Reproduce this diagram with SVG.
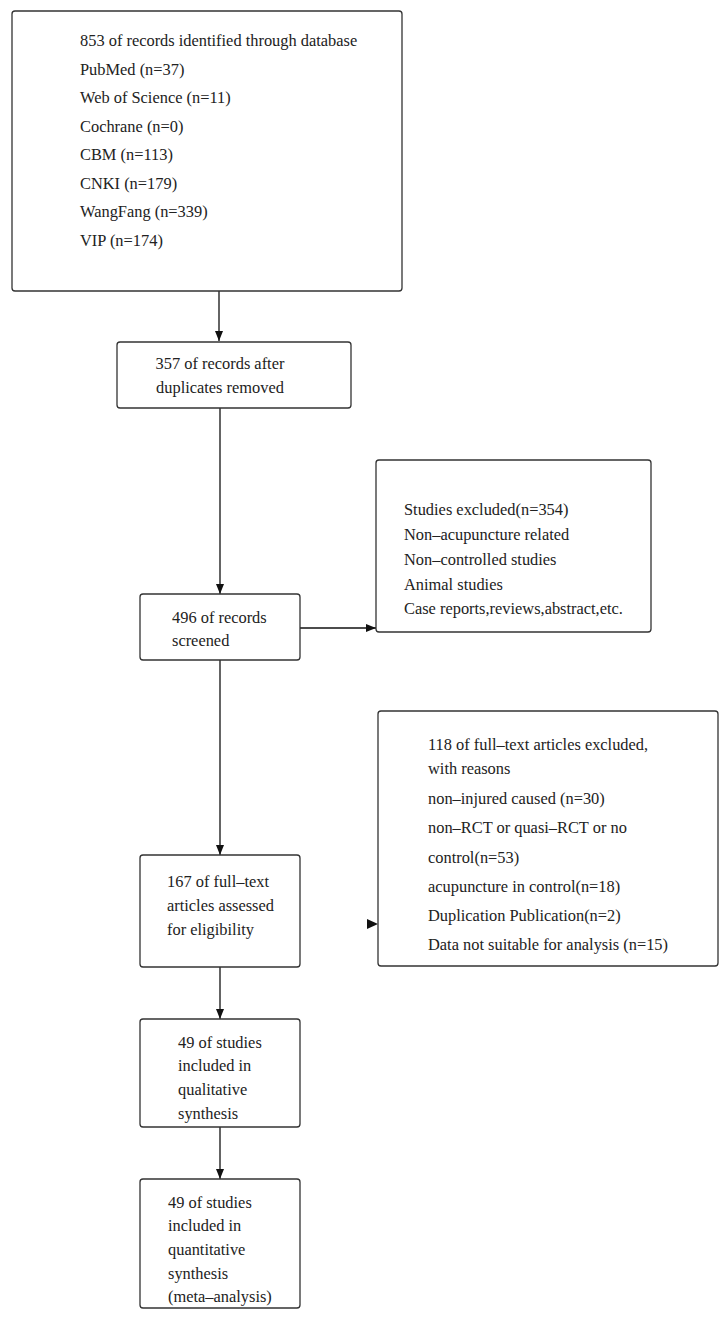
<svg xmlns="http://www.w3.org/2000/svg" width="728" height="1319" viewBox="0 0 728 1319">
<defs>
<marker id="ah" markerWidth="10" markerHeight="8" refX="10" refY="4" orient="auto" markerUnits="userSpaceOnUse">
<path d="M0,0 L10,4 L0,8 Z" fill="#111"/>
</marker>
<style>
.box{fill:#fff;stroke:#333;stroke-width:1.3}
.t{font-family:"Liberation Serif","Times New Roman",serif;font-size:16.4px;fill:#222}
.c{stroke:#111;stroke-width:1.3;fill:none}
</style>
</defs>
<rect width="728" height="1319" fill="#fff"/>
<g id="connectors">
<line class="c" x1="219" y1="291" x2="219" y2="341" marker-end="url(#ah)"/>
<line class="c" x1="220" y1="408" x2="220" y2="594" marker-end="url(#ah)"/>
<line class="c" x1="300" y1="628" x2="376" y2="628" marker-end="url(#ah)"/>
<line class="c" x1="220" y1="660" x2="220" y2="855" marker-end="url(#ah)"/>
<path d="M367,919 L378,924 L367,929 Z" fill="#111"/>
<line class="c" x1="220" y1="967" x2="220" y2="1019" marker-end="url(#ah)"/>
<line class="c" x1="220" y1="1127" x2="220" y2="1179" marker-end="url(#ah)"/>
</g>
<g id="n1">
<rect class="box" x="12" y="11" width="390" height="280" rx="3"/>
<text class="t" x="80" y="46">853 of records identified through database</text>
<text class="t" x="80" y="74.5">PubMed (n=37)</text>
<text class="t" x="80" y="103">Web of Science (n=11)</text>
<text class="t" x="80" y="131.5">Cochrane (n=0)</text>
<text class="t" x="80" y="160">CBM (n=113)</text>
<text class="t" x="80" y="188.5">CNKI (n=179)</text>
<text class="t" x="80" y="217">WangFang (n=339)</text>
<text class="t" x="80" y="245.5">VIP (n=174)</text>
</g>
<g id="n2">
<rect class="box" x="117" y="342" width="234" height="66" rx="3"/>
<text class="t" x="220" y="369" text-anchor="middle">357 of records after</text>
<text class="t" x="220" y="393" text-anchor="middle">duplicates removed</text>
</g>
<g id="n3">
<rect class="box" x="140" y="594" width="160" height="66" rx="3"/>
<text class="t" x="172" y="623">496 of records</text>
<text class="t" x="172" y="646">screened</text>
</g>
<g id="n4">
<rect class="box" x="376" y="460" width="275" height="172" rx="3"/>
<text class="t" x="404" y="515">Studies excluded(n=354)</text>
<text class="t" x="404" y="540">Non–acupuncture related</text>
<text class="t" x="404" y="565">Non–controlled studies</text>
<text class="t" x="404" y="590">Animal studies</text>
<text class="t" x="404" y="614">Case reports,reviews,abstract,etc.</text>
</g>
<g id="n5">
<rect class="box" x="140" y="855" width="160" height="112" rx="3"/>
<text class="t" x="167" y="887">167 of full–text</text>
<text class="t" x="167" y="911">articles assessed</text>
<text class="t" x="167" y="935">for eligibility</text>
</g>
<g id="n6">
<rect class="box" x="378" y="711" width="340" height="255" rx="3"/>
<text class="t" x="428" y="750">118 of full–text articles excluded,</text>
<text class="t" x="428" y="774">with reasons</text>
<text class="t" x="428" y="804">non–injured caused (n=30)</text>
<text class="t" x="428" y="833">non–RCT or quasi–RCT or no</text>
<text class="t" x="428" y="863">control(n=53)</text>
<text class="t" x="428" y="892">acupuncture in control(n=18)</text>
<text class="t" x="428" y="921">Duplication Publication(n=2)</text>
<text class="t" x="428" y="950">Data not suitable for analysis (n=15)</text>
</g>
<g id="n7">
<rect class="box" x="140" y="1019" width="160" height="108" rx="3"/>
<text class="t" x="178" y="1048">49 of studies</text>
<text class="t" x="178" y="1071">included in</text>
<text class="t" x="178" y="1095">qualitative</text>
<text class="t" x="178" y="1119">synthesis</text>
</g>
<g id="n8">
<rect class="box" x="140" y="1179" width="160" height="129" rx="3"/>
<text class="t" x="168" y="1208">49 of studies</text>
<text class="t" x="168" y="1231">included in</text>
<text class="t" x="168" y="1255">quantitative</text>
<text class="t" x="168" y="1279">synthesis</text>
<text class="t" x="168" y="1302">(meta–analysis)</text>
</g>
</svg>
